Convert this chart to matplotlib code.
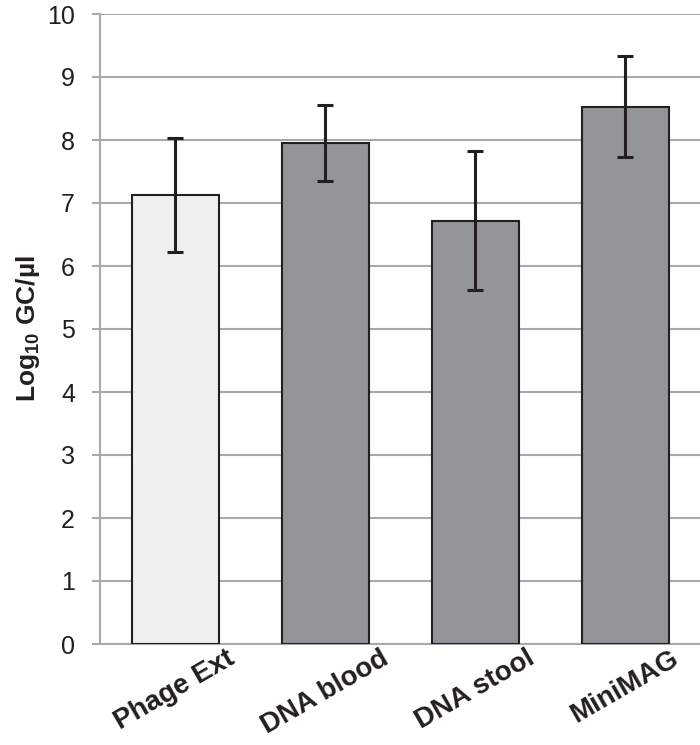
import numpy as np
import matplotlib
matplotlib.use("Agg")
import matplotlib.pyplot as plt

plt.rcParams['font.family'] = ['Liberation Sans', 'DejaVu Sans']
plt.rcParams['mathtext.fontset'] = 'custom'
plt.rcParams['mathtext.rm'] = 'Liberation Sans'
plt.rcParams['mathtext.bf'] = 'Liberation Sans:bold'

categories = ['Phage Ext', 'DNA blood', 'DNA stool', 'MiniMAG']
values = [7.13, 7.95, 6.72, 8.53]
errors = [0.90, 0.60, 1.10, 0.80]
colors = ['#efefef', '#939598', '#939598', '#939598']
yticks = [0, 1, 2, 3, 4, 5, 6, 7, 8, 9, 10]

grid_col = '#a7a9ac'
dark = '#231f20'

fig = plt.figure(figsize=(7.0, 7.45), dpi=100)
ax = fig.add_axes([100/700, 1 - 644/745, 600/700, 630/745])

x = np.arange(len(categories))
ax.bar(x, values, width=0.58, color=colors, edgecolor=dark, linewidth=1.5, zorder=3)
ax.errorbar(x, values, yerr=errors, fmt='none', ecolor=dark, elinewidth=2.2,
            capsize=6, capthick=2.2, zorder=4)

ax.set_xlim(-0.5, 3.5)
ax.set_ylim(0, 10)
ax.set_yticks(yticks)
ax.yaxis.grid(True, color=grid_col, linewidth=1.5, zorder=0)
ax.set_axisbelow(True)

for s in ['top', 'right']:
    ax.spines[s].set_visible(False)
ax.spines['left'].set_color(grid_col)
ax.spines['left'].set_linewidth(1.5)
ax.spines['bottom'].set_color(grid_col)
ax.spines['bottom'].set_linewidth(1.5)

ax.tick_params(axis='y', length=6, width=1.5, color=grid_col, labelsize=18,
               labelcolor=dark, pad=12)
ax.tick_params(axis='x', length=0, pad=1)
ax.set_xticks(x)
ax.set_xticklabels(categories, rotation=30, ha='center', va='top',
                   fontsize=20, fontweight='bold', color=dark)

ax.set_ylabel(r'Log$_\mathbf{10}$ GC/µl', fontsize=19, fontweight='bold',
              color=dark, labelpad=4)

fig.savefig('out.png', dpi=100)
